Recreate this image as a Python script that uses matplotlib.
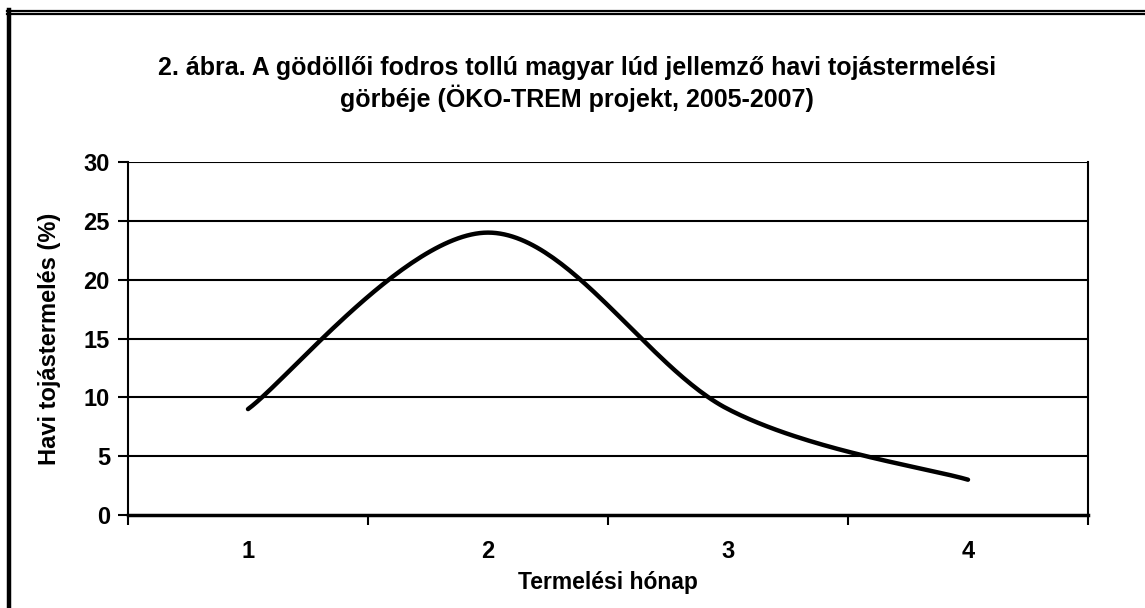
import numpy as np
import matplotlib.pyplot as plt
from matplotlib.lines import Line2D

months = [1, 2, 3, 4]
production = [9, 24, 9, 3]
y_ticks = [0, 5, 10, 15, 20, 25, 30]
x_labels = ["1", "2", "3", "4"]

title = ("2. ábra. A gödöllői fodros tollú magyar lúd jellemző havi tojástermelési\n"
         "görbéje (ÖKO-TREM projekt, 2005-2007)")

plt.rcParams['font.family'] = ['Liberation Sans', 'DejaVu Sans']
plt.rcParams['font.weight'] = 'bold'


def excel_smooth(xs, ys, n=60):
    """Bezier smoothing like Excel's 'smoothed line' option."""
    pts = np.column_stack([xs, ys]).astype(float)
    padded = np.vstack([pts[0], pts, pts[-1]])
    t = np.linspace(0, 1, n)[:, None]
    out = []
    for i in range(len(pts) - 1):
        p0, p3 = padded[i + 1], padded[i + 2]
        c1 = p0 + (padded[i + 2] - padded[i]) / 6
        c2 = p3 - (padded[i + 3] - padded[i + 1]) / 6
        seg = ((1 - t) ** 3 * p0 + 3 * (1 - t) ** 2 * t * c1
               + 3 * (1 - t) * t ** 2 * c2 + t ** 3 * p3)
        out.append(seg if i == 0 else seg[1:])
    curve = np.vstack(out)
    return curve[:, 0], curve[:, 1]


W, H = 1145, 608
fig = plt.figure(figsize=(W / 100, H / 100), dpi=100)
ax = fig.add_axes([128 / W, 1 - 515 / H, (1088 - 128) / W, (515 - 162) / H])

for v in y_ticks[1:]:
    ax.axhline(v, color='black', linewidth=1.5, zorder=1)

sx, sy = excel_smooth(months, production)
ax.plot(sx, sy, color='black', linewidth=3.2, solid_capstyle='round', zorder=3)

ax.set_xlim(0.5, 4.5)
ax.set_ylim(0, 30)
ax.set_yticks(y_ticks)
ax.set_yticklabels([str(v) for v in y_ticks], fontsize=17, fontweight='bold')
ax.set_xticks(np.arange(0.5, 4.6, 1))
ax.set_xticklabels([])
ax.set_xticks(months, minor=True)
ax.set_xticklabels(x_labels, minor=True, fontsize=17, fontweight='bold')
ax.tick_params(axis='x', which='major', direction='out', length=7, width=1.5)
ax.tick_params(axis='x', which='minor', length=0, pad=18)
ax.tick_params(axis='y', direction='out', length=7, width=1.5, pad=6)

ax.spines['top'].set_visible(False)
for side in ['left', 'bottom', 'right']:
    ax.spines[side].set_linewidth(1.5)
ax.spines['bottom'].set_linewidth(2.5)

ax.set_xlabel("Termelési hónap", fontsize=16.5, fontweight='bold', labelpad=6)
ax.set_ylabel("Havi tojástermelés (%)", fontsize=17, fontweight='bold', labelpad=16)

fig.text(577 / W, 1 - 84 / H, title, ha='center', va='center',
         fontsize=18, fontweight='bold', linespacing=1.2)

# double frame around the chart
fig.add_artist(Line2D([7 / W, 1], [1 - 11 / H, 1 - 11 / H], color='black', linewidth=1.6))
fig.add_artist(Line2D([7 / W, 1], [1 - 14.2 / H, 1 - 14.2 / H], color='black', linewidth=1.6))
fig.add_artist(Line2D([8.5 / W, 8.5 / W], [0, 1 - 10.2 / H], color='black', linewidth=3.2))

fig.savefig("out.png", dpi=100)
